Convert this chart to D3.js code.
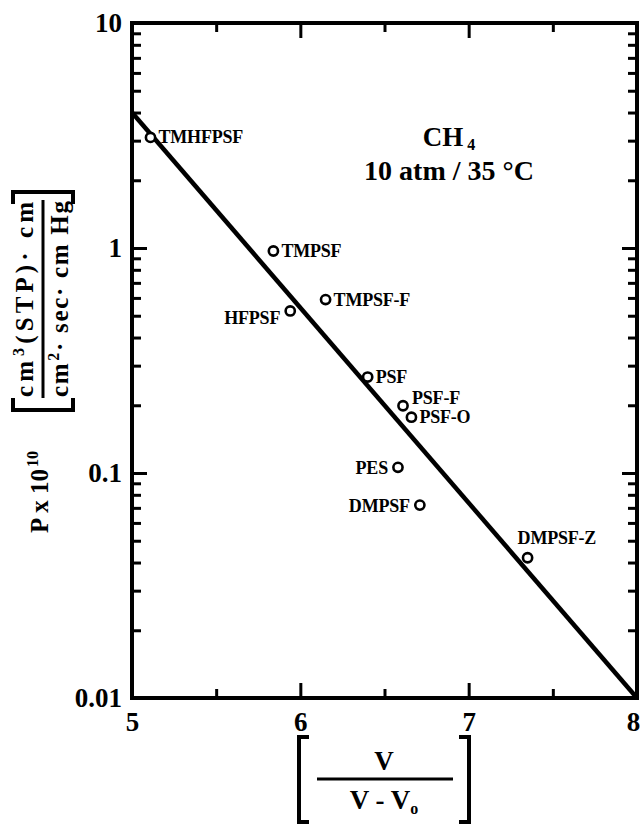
<!DOCTYPE html>
<html>
<head>
<meta charset="utf-8">
<script src="https://cdn.jsdelivr.net/npm/d3@7"></script>
<style>
  html, body { margin: 0; padding: 0; background: #fff; }
  svg { display: block; }
  text { font-family: "Liberation Serif", "DejaVu Serif", serif; font-weight: bold; fill: #000; }
</style>
</head>
<body>
<svg id="chart" width="642" height="825"></svg>
<script>
// Polymers: name, free-volume ratio V/(V - Vo), CH4 permeability (x 1e10)
const polymers = ["TMHFPSF", "TMPSF", "HFPSF", "TMPSF-F", "PSF", "PSF-F", "PSF-O", "PES", "DMPSF", "DMPSF-Z"];
const ratio    = [5.11, 5.84, 5.94, 6.15, 6.40, 6.61, 6.66, 6.58, 6.71, 7.35];
const perm     = [3.1, 0.97, 0.525, 0.59, 0.267, 0.199, 0.177, 0.106, 0.072, 0.042];
// label side for each polymer name
const labelSide = ["right", "right", "left", "right", "right", "rightUp", "right", "left", "left", "above"];

// correlation line end points
const fitX = [5, 8];
const fitY = [4.0, 0.01];

const xMajor = [5, 6, 7, 8];
const xMinor = [5.5, 6.5, 7.5];
const yMajor = [0.01, 0.1, 1, 10];
const yMajorLabels = ["0.01", "0.1", "1", "10"];

const svg = d3.select("#chart");
const L = 132, R = 637, T = 23, B = 698;

const x = d3.scaleLinear().domain([5, 8]).range([L, R]);
const y = d3.scaleLog().domain([0.01, 10]).range([B, T]);

// minor log ticks: 2..9 in each decade
const yMinor = [];
[0.01, 0.1, 1].forEach(d => { for (let k = 2; k <= 9; k++) yMinor.push(+(d * k).toPrecision(3)); });

const majorLen = 15, minorLen = 9;

function styleAxis(g) {
  g.select(".domain").remove();
  g.selectAll(".tick line").attr("stroke", "#000").attr("stroke-width", 3);
}
function styleLabels(g) {
  g.selectAll("text").attr("font-size", 27)
    .attr("font-family", "Liberation Serif").attr("font-weight", "bold");
}

// bottom axis: labels + inward ticks
svg.append("g").attr("transform", `translate(0,${B})`)
  .call(d3.axisBottom(x).tickValues(xMajor).tickSizeInner(-majorLen).tickSizeOuter(0)
    .tickPadding(14).tickFormat(d3.format("d")))
  .call(styleAxis).call(styleLabels)
  .call(g => g.selectAll(".tick text").filter(d => d === 8).attr("dx", -4));
svg.append("g").attr("transform", `translate(0,${B})`)
  .call(d3.axisBottom(x).tickValues(xMinor).tickSizeInner(-minorLen).tickSizeOuter(0).tickFormat(""))
  .call(styleAxis);
// top axis
svg.append("g").attr("transform", `translate(0,${T})`)
  .call(d3.axisTop(x).tickValues(xMajor).tickSizeInner(-majorLen).tickSizeOuter(0).tickFormat(""))
  .call(styleAxis);
svg.append("g").attr("transform", `translate(0,${T})`)
  .call(d3.axisTop(x).tickValues(xMinor).tickSizeInner(-minorLen).tickSizeOuter(0).tickFormat(""))
  .call(styleAxis);

// left axis
svg.append("g").attr("transform", `translate(${L},0)`)
  .call(d3.axisLeft(y).tickValues(yMajor).tickSizeInner(-majorLen).tickSizeOuter(0)
    .tickPadding(10).tickFormat((d, i) => yMajorLabels[i]))
  .call(styleAxis).call(styleLabels);
svg.append("g").attr("transform", `translate(${L},0)`)
  .call(d3.axisLeft(y).tickValues(yMinor).tickSizeInner(-minorLen).tickSizeOuter(0).tickFormat(""))
  .call(styleAxis);
// right axis
svg.append("g").attr("transform", `translate(${R},0)`)
  .call(d3.axisRight(y).tickValues(yMajor).tickSizeInner(-majorLen).tickSizeOuter(0).tickFormat(""))
  .call(styleAxis);
svg.append("g").attr("transform", `translate(${R},0)`)
  .call(d3.axisRight(y).tickValues(yMinor).tickSizeInner(-minorLen).tickSizeOuter(0).tickFormat(""))
  .call(styleAxis);

// frame
svg.append("rect").attr("x", L).attr("y", T).attr("width", R - L).attr("height", B - T)
  .attr("fill", "none").attr("stroke", "#000").attr("stroke-width", 4);

// correlation line
svg.append("line")
  .attr("x1", x(fitX[0])).attr("y1", y(fitY[0]))
  .attr("x2", x(fitX[1])).attr("y2", y(fitY[1]))
  .attr("stroke", "#000").attr("stroke-width", 4.5);

// data points
const pts = polymers.map((name, i) => ({ name, r: ratio[i], p: perm[i], side: labelSide[i] }));
svg.append("g").selectAll("circle").data(pts).join("circle")
  .attr("cx", d => x(d.r)).attr("cy", d => y(d.p)).attr("r", 4.6)
  .attr("fill", "#fff").attr("stroke", "#000").attr("stroke-width", 2.6);

// point labels
const lbl = svg.append("g").selectAll("text").data(pts).join("text")
  .attr("font-size", 18)
  .attr("letter-spacing", -0.2)
  .text(d => d.name)
  .each(function (d) {
    const cx = x(d.r), cy = y(d.p), t = d3.select(this);
    if (d.side === "right") t.attr("x", cx + 8).attr("y", cy + 6).attr("text-anchor", "start");
    else if (d.side === "rightUp") t.attr("x", cx + 9).attr("y", cy - 2).attr("text-anchor", "start");
    else if (d.side === "left") t.attr("x", cx - 10).attr("y", cy + 7).attr("text-anchor", "end");
    else t.attr("x", cx - 10).attr("y", cy - 14).attr("text-anchor", "start");
  });
// HFPSF label sits slightly lower than its point
lbl.filter(d => d.name === "HFPSF").attr("y", y(perm[2]) + 13);

// gas / condition annotation
const ann = svg.append("g").attr("font-size", 27);
const ch = ann.append("text").attr("x", 449).attr("y", 146).attr("text-anchor", "middle");
ch.append("tspan").text("CH");
ch.append("tspan").attr("font-size", 16).attr("dx", 4).attr("dy", 4).text("4");
ann.append("text").attr("x", 449).attr("y", 180).attr("text-anchor", "middle")
  .attr("font-size", 28).text("10 atm / 35 \u00B0C");

// x-axis title: [ V / (V - Vo) ]
const xt = svg.append("g");
const xc = 384;
xt.append("path").attr("d", "M309,737 L299,737 L299,822 L309,822")
  .attr("fill", "none").attr("stroke", "#000").attr("stroke-width", 4);
xt.append("path").attr("d", "M459,737 L469,737 L469,822 L459,822")
  .attr("fill", "none").attr("stroke", "#000").attr("stroke-width", 4);
xt.append("line").attr("x1", 317).attr("x2", 453).attr("y1", 779).attr("y2", 779)
  .attr("stroke", "#000").attr("stroke-width", 3);
xt.append("text").attr("x", xc).attr("y", 770).attr("text-anchor", "middle").attr("font-size", 27).text("V");
const den = xt.append("text").attr("x", xc).attr("y", 809).attr("text-anchor", "middle").attr("font-size", 27);
den.append("tspan").text("V - V");
den.append("tspan").attr("font-size", 16).attr("dy", 5).text("o");

// y-axis title: P x 10^10 [ cm3(STP)·cm / cm2·sec·cm Hg ]
const yt = svg.append("g").attr("transform", "rotate(-90)");
const pt = yt.append("text").attr("x", -533).attr("y", 48).attr("font-size", 25).attr("text-anchor", "start");
pt.append("tspan").text("P x 10");
pt.append("tspan").attr("font-size", 16).attr("dy", -10).attr("dx", 2).text("10");
// brackets and fraction bar, drawn in screen coordinates
svg.append("path").attr("d", "M13,398 L13,410 L73,410 L73,398")
  .attr("fill", "none").attr("stroke", "#000").attr("stroke-width", 4);
svg.append("path").attr("d", "M13,204 L13,192 L73,192 L73,204")
  .attr("fill", "none").attr("stroke", "#000").attr("stroke-width", 4);
svg.append("line").attr("x1", 43).attr("x2", 43).attr("y1", 398).attr("y2", 200)
  .attr("stroke", "#000").attr("stroke-width", 3);
const num = yt.append("text").attr("x", -397).attr("y", 33).attr("font-size", 25)
  .attr("textLength", 195).attr("lengthAdjust", "spacing");
num.append("tspan").text("cm");
num.append("tspan").attr("font-size", 16).attr("dy", -9).attr("dx", 1).text("3");
num.append("tspan").attr("dy", 9).text("(STP)\u00B7 cm");
const dn = yt.append("text").attr("x", -397).attr("y", 68).attr("font-size", 25)
  .attr("textLength", 196).attr("lengthAdjust", "spacing");
dn.append("tspan").text("cm");
dn.append("tspan").attr("font-size", 16).attr("dy", -9).attr("dx", 1).text("2");
dn.append("tspan").attr("dy", 9).text("\u00B7 sec\u00B7 cm Hg");
</script>
</body>
</html>
